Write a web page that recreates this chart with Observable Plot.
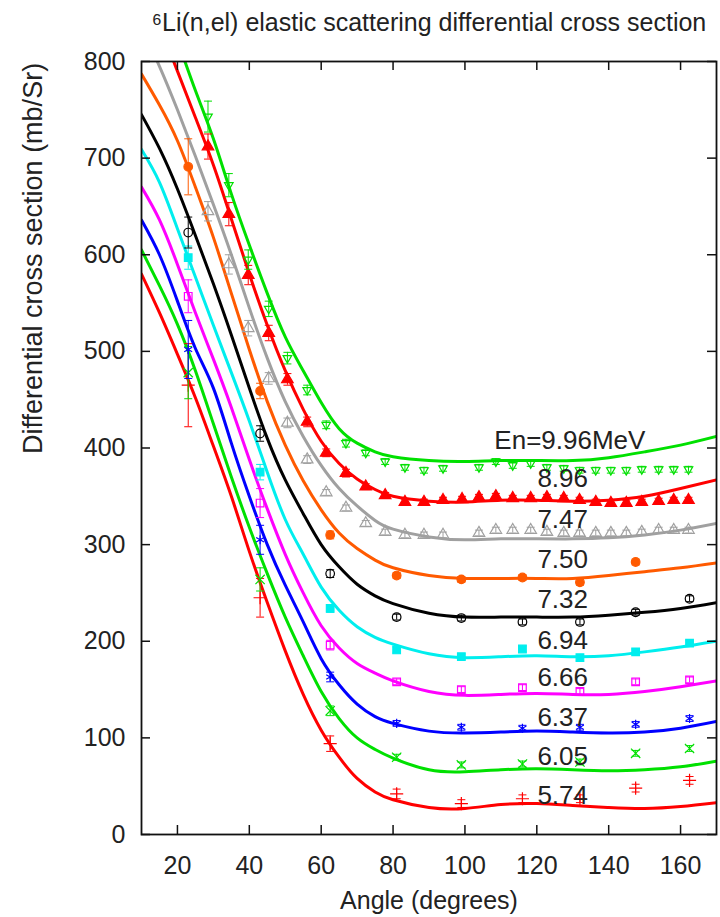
<!DOCTYPE html>
<html>
<head>
<meta charset="utf-8">
<script src="https://cdn.jsdelivr.net/npm/d3@7"></script>
<script src="https://cdn.jsdelivr.net/npm/@observablehq/plot@0.6"></script>
<style>
  body { margin: 0; background: #fff; }
  #chart svg { display: block; }
</style>
</head>
<body>
<div id="chart"></div>
<script>
// ---------- DATA ----------
const titleText = "\u2076Li(n,el) elastic scattering differential cross section";
const xLabel = "Angle (degrees)";
const yLabel = "Differential cross section (mb/Sr)";
const xTicks = [20, 40, 60, 80, 100, 120, 140, 160];
const yTicks = [0, 100, 200, 300, 400, 500, 600, 700, 800];

// fitted curves, sampled on a common angle grid
const curveAngles = [10, 15, 20, 25, 30, 35, 40, 45, 50, 55, 60, 65, 70, 75, 80, 90, 100, 110, 120, 130, 140, 150, 160, 170];
const curve574 = [580, 540, 497, 452, 402, 350, 293, 240, 190, 145, 108, 80, 58, 44, 36, 28, 27, 31, 32, 30, 28, 27, 29, 33];
const curve605 = [605, 568, 528, 480, 425, 370, 318, 270, 225, 185, 148, 120, 100, 88, 79, 67, 65, 67, 68, 67, 66, 67, 70, 76];
const curve637 = [636, 600, 552, 503, 462, 405, 350, 300, 258, 220, 182, 155, 135, 122, 115, 107, 105, 106, 107, 106, 105, 106, 110, 117];
const curve666 = [670, 636, 590, 540, 492, 442, 388, 337, 290, 250, 216, 193, 177, 167, 159, 148, 144, 145, 146, 145, 145, 148, 153, 159];
const curve694 = [709, 675, 627, 577, 527, 478, 428, 375, 326, 290, 256, 232, 215, 204, 197, 187, 183, 184, 185, 184, 185, 189, 194, 200];
const curve732 = [745, 710, 668, 620, 570, 517, 462, 410, 367, 332, 300, 277, 259, 247, 239, 229, 225, 225, 225, 225, 227, 230, 234, 240];
const curve750 = [787, 755, 718, 670, 618, 560, 502, 448, 403, 366, 336, 312, 296, 284, 276, 268, 265, 265, 265, 265, 268, 272, 276, 281];
const curve747 = [835, 795, 750, 702, 652, 600, 545, 493, 448, 412, 382, 358, 340, 325, 316, 308, 305, 306, 306, 306, 307, 310, 315, 322];
const curve896 = [885, 838, 790, 742, 693, 637, 580, 527, 480, 440, 407, 384, 368, 357, 350, 345, 344, 346, 346, 345, 346, 350, 358, 367];
const curve996 = [930, 875, 822, 770, 720, 663, 610, 560, 515, 480, 447, 420, 405, 396, 391, 387, 386, 387, 387, 387, 390, 396, 403, 412];

// measured points, lower energies
const lowAngles = [23, 43, 62.5, 81, 99, 116, 132, 147.5, 162.5];
const pts574 = [465, 245, 94, 42, 32, 37, 37, 48, 56];
const err574 = [43, 20, 8, 5, 4, 4, 4, 4, 4];
const pts605 = [478, 264, 128, 80, 72, 73, 75, 84, 89];
const err605 = [27, 12, 5, 3, 3, 3, 3, 3, 3];
const pts637 = [502, 305, 163, 115, 111, 110, 111, 114, 120];
const err637 = [30, 15, 5, 3, 3, 3, 3, 3, 3];
const pts666 = [557, 343, 196, 158, 150, 152, 148, 158, 160];
const err666 = [17, 15, 5, 3, 3, 3, 3, 3, 3];
const pts694 = [597, 375, 234, 191, 184, 192, 183, 189, 198];
const err694 = [12, 8, 4, 3, 3, 3, 3, 3, 3];
const pts732 = [623, 415, 270, 225, 224, 220, 220, 230, 244];
const err732 = [16, 8, 4, 3, 3, 3, 3, 3, 3];
const pts750 = [691, 459, 310, 268, 264, 266, 261, 282, null];
const err750 = [29, 8, 4, 3, 3, 3, 3, 3, null];

// measured points, higher energies
const highAngles = [28.5, 34.3, 39.7, 45.4, 50.6, 56.1, 61.4, 66.9, 72.4, 77.8, 83.3, 88.6, 93.9, 99.2, 103.9, 108.6, 113.3, 118.3, 122.8, 127.5, 131.9, 136.4, 140.6, 144.9, 149.2, 153.9, 158.1, 162.2];
const pts747 = [645, 590, 524, 472, 426, 388, 354, 338, 322, 313, 310, 310, 310, null, 312, 315, 315, 315, 313, 312, 312, 312, 312, 312, 313, 315, 315, 315];
const err747 = [10, 10, 8, 6, 5, 4, 3, 3, 3, 3, 3, 3, 3, null, 3, 3, 3, 3, 3, 3, 3, 3, 3, 3, 3, 3, 3, 3];
const pts896 = [712, 642, 579, 519, 471, 427, 395, 374, 360, 351, 344, 344, 346, 347, 349, 350, 348, 348, 349, 348, 346, 344, 343, 343, 344, 345, 346, 346];
const err896 = [13, 12, 10, 8, 6, 5, 4, 4, 3, 3, 3, 3, 3, 3, 3, 3, 3, 3, 3, 3, 3, 3, 3, 3, 3, 3, 3, 3];
const pts996 = [743, 672, 595, 544, 493, 460, 424, 405, 395, 386, 380, 377, 379, null, 380, 386, 382, 384, 380, 379, 377, 377, 377, 377, 378, 378, 378, 378];
const err996 = [16, 12, 10, 8, 6, 5, 4, 4, 3, 3, 3, 3, 3, null, 3, 3, 3, 3, 3, 3, 3, 3, 3, 3, 3, 3, 3, 3];

// curve labels
const labelTexts = ["En=9.96MeV", "8.96", "7.47", "7.50", "7.32", "6.94", "6.66", "6.37", "6.05", "5.74"];
const labelAngles = [129.2, 127.2, 127.2, 127.2, 127.2, 127.2, 127.2, 127.2, 127.2, 127.2];
const labelValues = [408, 368, 326, 284, 243, 201, 162, 121, 81, 40];

// ---------- STYLE ----------
const invTriangle = {
  draw(ctx, size) {
    const r = Math.sqrt(size / Math.PI) * 1.15;
    ctx.moveTo(0, r);
    ctx.lineTo(-r * 0.866, -r * 0.5);
    ctx.lineTo(r * 0.866, -r * 0.5);
    ctx.closePath();
  }
};
const capSymbol = {
  draw(ctx, size) {
    const r = Math.sqrt(size / Math.PI);
    ctx.moveTo(-r, 0);
    ctx.lineTo(r, 0);
  }
};
const GREEN = "#00e000";
const series = [
  {curve: curve574, ang: lowAngles, pts: pts574, err: err574, color: "#ff0000", symbol: "plus", filled: false},
  {curve: curve605, ang: lowAngles, pts: pts605, err: err605, color: GREEN, symbol: "times", filled: false},
  {curve: curve637, ang: lowAngles, pts: pts637, err: err637, color: "#0000ff", symbol: "asterisk", filled: false},
  {curve: curve666, ang: lowAngles, pts: pts666, err: err666, color: "#ff00ff", symbol: "square", filled: false},
  {curve: curve694, ang: lowAngles, pts: pts694, err: err694, color: "#00eeee", symbol: "square", filled: true},
  {curve: curve732, ang: lowAngles, pts: pts732, err: err732, color: "#000000", symbol: "circle", filled: false},
  {curve: curve750, ang: lowAngles, pts: pts750, err: err750, color: "#ff5a00", symbol: "circle", filled: true},
  {curve: curve747, ang: highAngles, pts: pts747, err: err747, color: "#a0a0a0", symbol: "triangle", filled: false},
  {curve: curve896, ang: highAngles, pts: pts896, err: err896, color: "#ff0000", symbol: "triangle", filled: true},
  {curve: curve996, ang: highAngles, pts: pts996, err: err996, color: GREEN, symbol: invTriangle, filled: false}
];

const W = 720, H = 917, mL = 141, mR = 4, mT = 61, mB = 83;
const plotW = W - mL - mR, plotH = H - mT - mB;
const FONT = "'Liberation Sans', Arial, Helvetica, sans-serif";

const marks = [];
for (const s of series) {
  const line = curveAngles.map((a, i) => ({a, v: s.curve[i]}));
  marks.push(Plot.line(line, {x: "a", y: "v", stroke: s.color, strokeWidth: 3, curve: "natural", clip: true}));
}
for (const s of series) {
  const pts = s.ang.map((a, i) => ({a, v: s.pts[i], e: s.err[i]})).filter(d => d.v != null);
  const ebar = pts.filter(d => d.e > 0);
  marks.push(Plot.ruleX(ebar, {x: "a", y1: d => d.v - d.e, y2: d => d.v + d.e, stroke: s.color, strokeWidth: 1, clip: true}));
  marks.push(Plot.dot(ebar, {x: "a", y: d => d.v - d.e, symbol: capSymbol, r: 4, stroke: s.color, strokeWidth: 1, clip: true}));
  marks.push(Plot.dot(ebar, {x: "a", y: d => d.v + d.e, symbol: capSymbol, r: 4, stroke: s.color, strokeWidth: 1, clip: true}));
  marks.push(Plot.dot(pts, {
    x: "a", y: "v", symbol: s.symbol, r: 4.3,
    stroke: s.color, strokeWidth: 1.2,
    fill: s.filled ? s.color : "none", clip: true
  }));
}

const labels = labelTexts.map((t, i) => ({t, a: labelAngles[i], v: labelValues[i]}));

const chart = Plot.plot({
  width: W, height: H,
  marginLeft: mL, marginRight: mR, marginTop: mT, marginBottom: mB,
  x: {domain: [10, 170]},
  y: {domain: [0, 800]},
  style: {fontFamily: FONT, fontSize: "25px", color: "#222", background: "#fff"},
  marks: [
    ...marks,
    Plot.text(labels, {x: "a", y: "v", text: "t", fontSize: 26, fill: "#222", textAnchor: "middle"}),
    // inward ticks on all four sides
    Plot.tickX(xTicks, {x: d => d, insetTop: plotH - 9, stroke: "#111", strokeWidth: 1.5}),
    Plot.tickX(xTicks, {x: d => d, insetBottom: plotH - 9, stroke: "#111", strokeWidth: 1.5}),
    Plot.tickY(yTicks, {y: d => d, insetRight: plotW - 9, stroke: "#111", strokeWidth: 1.5}),
    Plot.tickY(yTicks, {y: d => d, insetLeft: plotW - 9, stroke: "#111", strokeWidth: 1.5}),
    Plot.axisX(xTicks, {tickSize: 0, tickPadding: 22, fontSize: 25, label: null}),
    Plot.axisY(yTicks, {tickSize: 0, tickPadding: 16, fontSize: 25, label: null}),
    Plot.frame({stroke: "#111", strokeWidth: 1.8}),
    Plot.text([titleText], {frameAnchor: "top", dy: -39, text: d => d, fontSize: 25, fill: "#222", lineAnchor: "middle"}),
    Plot.text([xLabel], {frameAnchor: "bottom", dy: 66, text: d => d, fontSize: 25, fill: "#222", lineAnchor: "middle"}),
    Plot.text([yLabel], {frameAnchor: "left", dx: -108, dy: 6, rotate: -90, text: d => d, fontSize: 27, fill: "#222", lineAnchor: "middle"})
  ]
});
document.getElementById("chart").appendChild(chart);
</script>
</body>
</html>
